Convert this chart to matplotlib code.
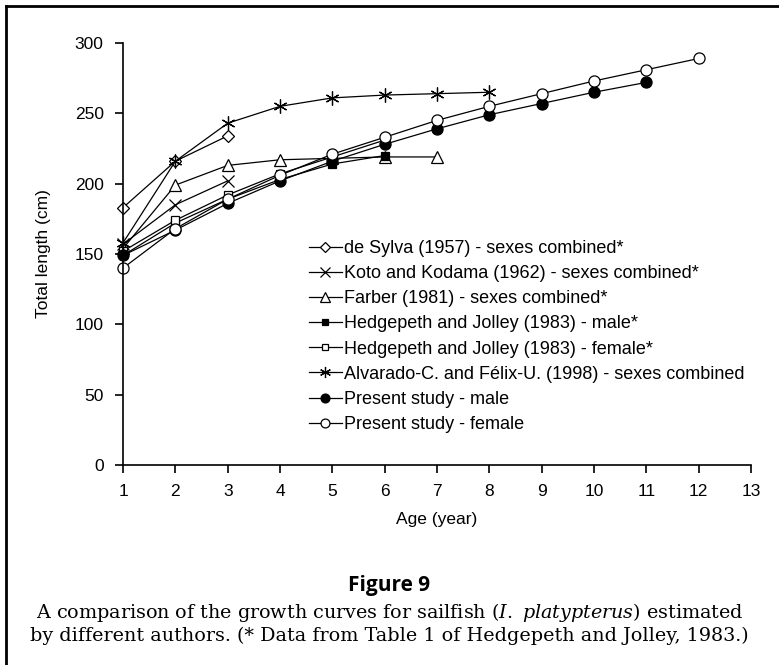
import matplotlib.pyplot as plt
from matplotlib.lines import Line2D

ages_desylva = [1, 2, 3]
len_desylva = [183, 216, 234]

ages_koto = [1, 2, 3]
len_koto = [157, 185, 202]

ages_farber = [1, 2, 3, 4, 5, 6, 7]
len_farber = [154, 199, 213, 217, 218, 219, 219]

ages_hj_male = [1, 2, 3, 4, 5, 6]
len_hj_male = [149, 172, 189, 203, 214, 220]

ages_hj_female = [1, 2, 3, 4, 5, 6]
len_hj_female = [152, 174, 192, 207, 219, 231]

ages_alvarado = [1, 2, 3, 4, 5, 6, 7, 8]
len_alvarado = [158, 216, 243, 255, 261, 263, 264, 265]

ages_male = [1, 2, 3, 4, 5, 6, 7, 8, 9, 10, 11]
len_male = [149, 167, 186, 202, 216, 228, 239, 249, 257, 265, 272]

ages_female = [1, 2, 3, 4, 5, 6, 7, 8, 9, 10, 11, 12]
len_female = [140, 168, 189, 206, 221, 233, 245, 255, 264, 273, 281, 289]

plt.rcParams['font.family'] = ['Liberation Sans', 'DejaVu Sans']
plt.rcParams['mathtext.fontset'] = 'dejavuserif'

fig = plt.figure(figsize=(7.79, 6.65), dpi=100)
ax = fig.add_axes([0.158, 0.3008, 0.806, 0.6345])

series = [
    (ages_desylva, len_desylva, 'D', 'white', 6, "de Sylva (1957) - sexes combined*"),
    (ages_koto, len_koto, 'x', 'black', 9, "Koto and Kodama (1962) - sexes combined*"),
    (ages_farber, len_farber, '^', 'white', 9, "Farber (1981) - sexes combined*"),
    (ages_hj_male, len_hj_male, 's', 'black', 6, "Hedgepeth and Jolley (1983) - male*"),
    (ages_hj_female, len_hj_female, 's', 'white', 6, "Hedgepeth and Jolley (1983) - female*"),
    (ages_alvarado, len_alvarado, (6, 2, 0), 'black', 10, "Alvarado-C. and Félix-U. (1998) - sexes combined"),
    (ages_male, len_male, 'o', 'black', 8, "Present study - male"),
    (ages_female, len_female, 'o', 'white', 8, "Present study - female"),
]

handles = []
for x, y, m, fc, ms, lab in series:
    ax.plot(x, y, color='black', lw=0.9, marker=m, markersize=ms,
            markerfacecolor=fc, markeredgecolor='black', markeredgewidth=0.9, clip_on=False)
    handles.append(Line2D([0], [0], color='black', lw=0.9, marker=m, markersize=ms * 0.8,
                          markerfacecolor=fc, markeredgecolor='black', markeredgewidth=0.9, label=lab))

ax.set_xlim(1, 13)
ax.set_ylim(0, 300)
ax.set_xticks(range(1, 14))
ax.set_yticks(range(0, 301, 50))
ax.spines['top'].set_visible(False)
ax.spines['right'].set_visible(False)
ax.spines['left'].set_linewidth(1.2)
ax.spines['bottom'].set_linewidth(1.2)
ax.tick_params(direction='out', length=6, width=1.2, labelsize=12.5, pad=8)
ax.set_xlabel("Age (year)", fontsize=12.5, labelpad=9)
ax.set_ylabel("Total length (cm)", fontsize=12.5, labelpad=17)

ax.legend(handles=handles, loc='upper left', bbox_to_anchor=(0.285, 0.55), frameon=False,
          fontsize=13, handlelength=1.8, handletextpad=0.15, labelspacing=0.45, borderaxespad=0)

# frame around figure (left and top)
fig.add_artist(Line2D([0.008, 0.008], [0, 0.991], color='black', lw=2, transform=fig.transFigure))
fig.add_artist(Line2D([0.008, 1.0], [0.991, 0.991], color='black', lw=2, transform=fig.transFigure))

fig.text(0.5, 0.12, "Figure 9", ha='center', va='center', fontsize=15, fontweight='bold',
         family=['Open Sans', 'DejaVu Sans'])
fig.text(0.5, 0.063, "A comparison of the growth curves for sailfish ($\\it{I.\\ platypterus}$) estimated\n"
         "by different authors. (* Data from Table 1 of Hedgepeth and Jolley, 1983.)",
         ha='center', va='center', fontsize=13.8, family=['DejaVu Serif'], linespacing=1.15)

fig.savefig("out.png", dpi=100)
